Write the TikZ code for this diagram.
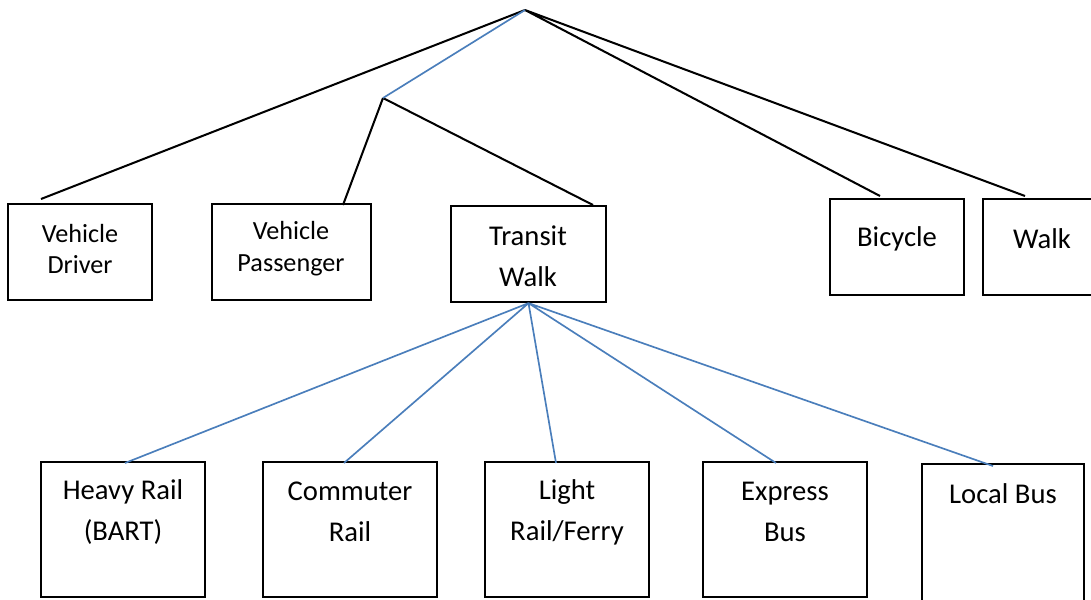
\documentclass[tikz,border=0pt]{standalone}
\usepackage{fontspec}
\setmainfont{Carlito}
\usepackage{xcolor}
\definecolor{linkblue}{HTML}{4A7EBB}

\begin{document}
\begin{tikzpicture}[x=0.02cm,y=-0.02cm,
  box/.style={draw,line width=1.3pt,inner sep=0pt},
  small/.style={align=center,font=\fontsize{14.9}{18.1}\selectfont},
  big/.style={align=center,font=\fontsize{16.3}{23.3}\selectfont},
  tie/.style={line width=1.15pt},
  link/.style={line width=0.95pt,linkblue}]
\useasboundingbox (0,0) rectangle (1091,599);

% upper row
\node[box,minimum width=2.88cm,minimum height=1.92cm] (vd) at (80,252) {};
\node[box,minimum width=3.18cm,minimum height=1.92cm] (vp) at (291.5,252) {};
\node[box,minimum width=3.10cm,minimum height=1.92cm] (tw) at (528.5,254) {};
\node[box,minimum width=2.68cm,minimum height=1.92cm] (bi) at (897,247) {};
\node[box,minimum width=2.54cm,minimum height=1.92cm] (wk) at (1046.5,247) {};

% lower row
\node[box,minimum width=3.28cm,minimum height=2.70cm] (hr) at (123,529.5) {};
\node[box,minimum width=3.48cm,minimum height=2.70cm] (cr) at (350,529.5) {};
\node[box,minimum width=3.28cm,minimum height=2.70cm] (lr) at (567,529.5) {};
\node[box,minimum width=3.28cm,minimum height=2.70cm] (eb) at (785,529.5) {};
\node[box,minimum width=3.24cm,minimum height=3.32cm] (lb) at (1003,547) {};

\node[small] (vdlabel) at (80,249) {Vehicle\\Driver};
\node[small] (vplabel) at (291,249) {Vehicle\\Passenger};
\node[big] (twlabel) at (528,256) {Transit\\Walk};
\node[big] (bilabel) at (897,239) {Bicycle};
\node[big] (wklabel) at (1042,239) {Walk};
\node[big] (hrlabel) at (123,512) {Heavy Rail\\(BART)};
\node[big] (crlabel) at (350,512) {Commuter\\Rail};
\node[big] (lrlabel) at (567,512) {Light\\Rail/Ferry};
\node[big] (eblabel) at (785,512) {Express\\Bus};
\node[big] (lblabel) at (1003,494) {Local Bus};

\path
  (525,10) coordinate(root)
  (383,98) coordinate(split)
  (41,199) coordinate(vdin)
  (343,205) coordinate(vpin)
  (593,205) coordinate(twin)
  (880,196) coordinate(biin)
  (1025,196) coordinate(wkin)
  (125,463) coordinate(hrin)
  (344,463) coordinate(crin)
  (556,463) coordinate(lrin)
  (776,463) coordinate(ebin)
  (993,466) coordinate(lbin);

\draw[tie]
  (root) -- (vdin)
  (root) -- (biin)
  (root) -- (wkin)
  (split) -- (vpin)
  (split) -- (twin);

\draw[link] (root) -- (split);

\draw[link]
  (tw.south) -- (hrin)
  (tw.south) -- (crin)
  (tw.south) -- (lrin)
  (tw.south) -- (ebin)
  (tw.south) -- (lbin);
\end{tikzpicture}
\end{document}
